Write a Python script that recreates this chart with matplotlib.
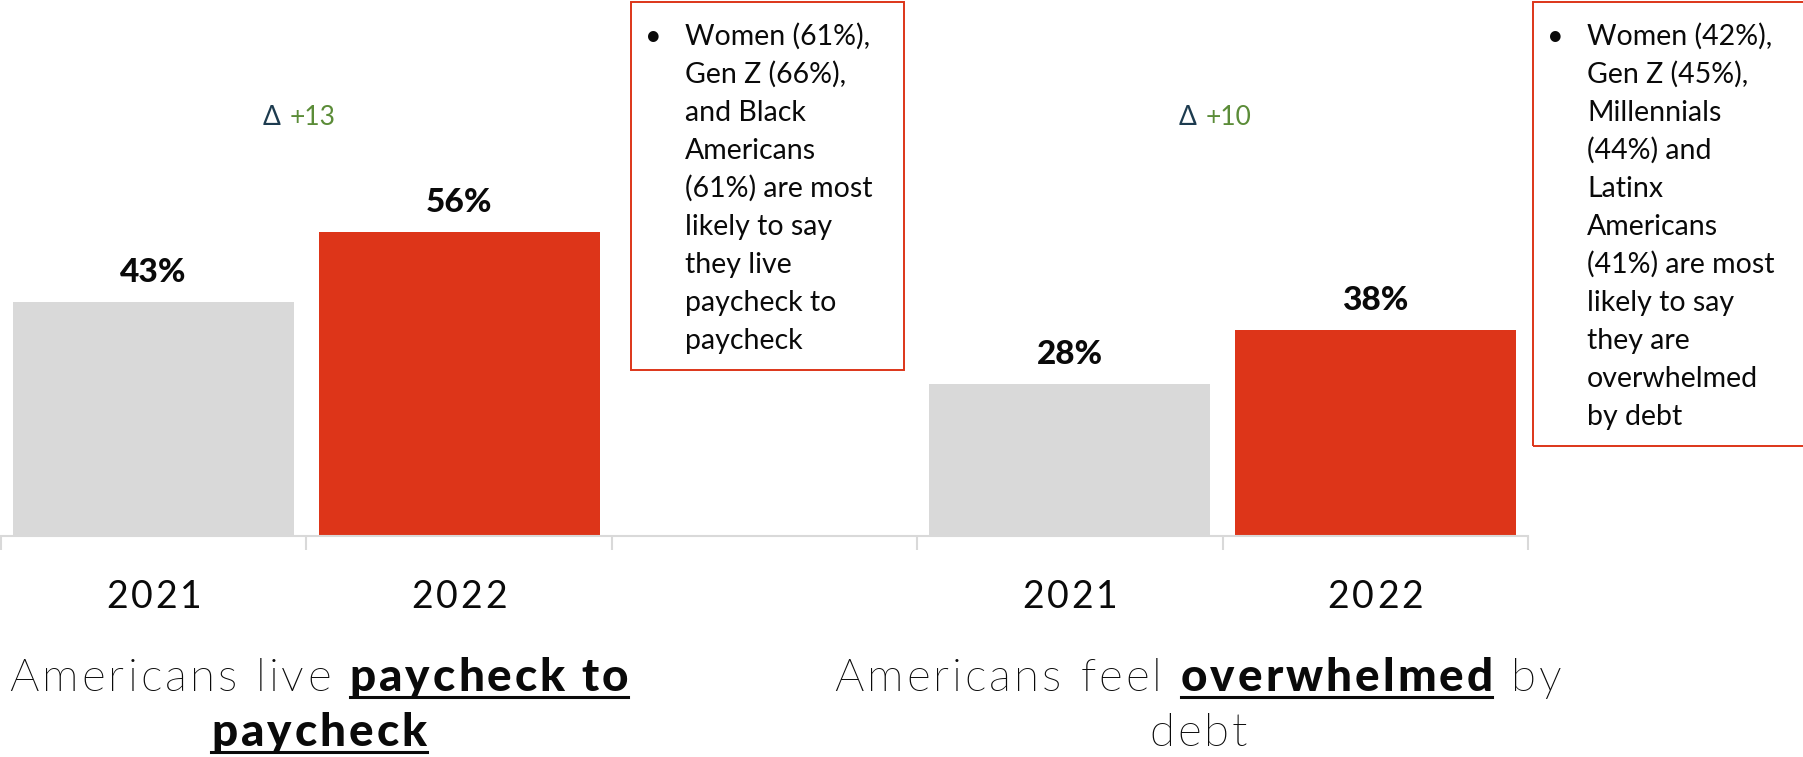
import matplotlib
matplotlib.use("Agg")
import matplotlib.pyplot as plt
from matplotlib import font_manager
from matplotlib.patches import Rectangle
from matplotlib.lines import Line2D

# ---- data -------------------------------------------------------------
years = ["2021", "2022"]
paycheck = [43, 56]          # % living paycheck to paycheck
debt = [28, 38]              # % overwhelmed by debt

paycheck_note = ["Women (61%),", "Gen Z (66%),", "and Black", "Americans",
                 "(61%) are most", "likely to say", "they live",
                 "paycheck to", "paycheck"]
debt_note = ["Women (42%),", "Gen Z (45%),", "Millennials", "(44%) and",
             "Latinx", "Americans", "(41%) are most", "likely to say",
             "they are", "overwhelmed", "by debt"]

paycheck_title = [[("Americans live ", False), ("paycheck to", True)],
                  [("paycheck", True)]]
debt_title = [[("Americans feel ", False), ("overwhelmed", True), (" by", False)],
              [("debt", False)]]

# ---- style ------------------------------------------------------------
GREY = "#d9d9d9"
RED = "#dd3519"
NAVY = "#1d3b4f"
GREEN = "#5b8c38"
INK = "#0a0a0a"
FAM = ["Lato", "DejaVu Sans"]
plt.rcParams["font.family"] = FAM


def lato_file(tag):
    """Path of the upright Lato face whose file name carries `tag`."""
    for f in font_manager.fontManager.ttflist:
        base = f.fname.rsplit("/", 1)[-1]
        if f.name == "Lato" and tag in base and "Italic" not in base:
            return f.fname
    return None


_light = lato_file("Light")
LIGHT = dict(fname=_light) if _light else dict(family=FAM, weight="light")

W, H = 1803, 757
fig = plt.figure(figsize=(W / 100, H / 100), dpi=100)
fig.patch.set_facecolor("white")


def fx(px):
    return px / W


def fy(py):
    return 1 - py / H


renderer = fig.canvas.get_renderer()
_adv = {}


def make_props(style, size):
    if style == "light":
        return dict(fontproperties=font_manager.FontProperties(size=size, **LIGHT))
    return dict(fontsize=size, fontweight=style)


def advance(ch, style, size):
    key = (ch, style, size)
    if key not in _adv:
        a = fig.text(0, 0, "H" + ch + "H", **make_props(style, size))
        b = fig.text(0, 0, "HH", **make_props(style, size))
        _adv[key] = (a.get_window_extent(renderer).width
                     - b.get_window_extent(renderer).width)
        a.remove()
        b.remove()
    return _adv[key]


def tracked(text, cx, base, style, size, track, color=INK):
    """Draw text centred on cx (figure px) with extra letter spacing."""
    total = sum(advance(c, style, size) + track for c in text) - track
    x = cx - total / 2
    for c in text:
        if c != " ":
            fig.text(fx(x), fy(base), c, ha="left", va="baseline",
                     color=color, **make_props(style, size))
        x += advance(c, style, size) + track


# ---- bars on one shared category axis (slot 2 left empty) --------------
AX_L, AX_R, AX_B = 1, 1528, 536
ax = fig.add_axes([fx(AX_L), fy(AX_B), fx(AX_R) - fx(AX_L), fy(0) - fy(AX_B)])
ax.set_xlim(-0.5, 4.5)
ax.set_ylim(0, 98.7)

groups = [(0, paycheck), (3, debt)]
for start, vals in groups:
    xs = [start, start + 1]
    ax.bar(xs, vals, width=0.92, color=[GREY, RED], zorder=2)
    for x, v in zip(xs, vals):
        ax.annotate(f"{v}%", (x, v), xytext=(0, 20), textcoords="offset pixels",
                    ha="center", va="baseline", fontsize=24, fontweight="black",
                    color=INK)
    change = vals[1] - vals[0]
    ax.annotate("\u0394", (start + 0.5, 75.7), xytext=(-26, 0),
                textcoords="offset pixels", ha="right", va="baseline",
                fontsize=19, color=NAVY)
    ax.annotate(f"+{change}", (start + 0.5, 75.7), xytext=(-17, 0),
                textcoords="offset pixels", ha="left", va="baseline",
                fontsize=19, color=GREEN)

for side in ("top", "left", "right"):
    ax.spines[side].set_visible(False)
ax.spines["bottom"].set_color(GREY)
ax.spines["bottom"].set_linewidth(1.5)
ax.set_yticks([])
ax.set_xticks([-0.5, 0.5, 1.5, 2.5, 3.5, 4.5])
ax.set_xticklabels([])
ax.tick_params(axis="x", which="major", length=10, width=1.5, color=GREY)
ax.patch.set_alpha(0)

# year labels under each bar, letter-spaced
slot = (AX_R - AX_L) / 5
for i, yr in zip([0, 1, 3, 4], years + years):
    tracked(yr, AX_L + slot * (i + 0.5), 608, "normal", 27, 3.0)

# ---- callout boxes ----------------------------------------------------
def callout(x0, x1, y0, y1, lines, bullet_x, text_x):
    fig.add_artist(Rectangle((fx(x0), fy(y1)), fx(x1) - fx(x0), fy(y0) - fy(y1),
                             transform=fig.transFigure, fill=False,
                             edgecolor=RED, linewidth=1.4))
    base = 45
    fig.text(fx(bullet_x), fy(base), "\u2022", ha="center", va="baseline",
             fontsize=20.5, color=INK)
    for i, line in enumerate(lines):
        fig.text(fx(text_x), fy(base + 38 * i), line, ha="left",
                 va="baseline", fontsize=20.5, color=INK)


callout(631, 904, 2, 370, paycheck_note, 653, 685)
callout(1533, 1830, 2, 446, debt_note, 1555, 1587)

# ---- mixed-weight, underlined titles ---------------------------------
def rich_line(runs, cx, base, size, track):
    styled = [(text, bold, "black" if bold else "light") for text, bold in runs]
    total = -track
    for text, bold, style in styled:
        total += sum(advance(c, style, size) + track for c in text)
    x = cx - total / 2
    for text, bold, style in styled:
        start = x
        for c in text:
            if c != " ":
                fig.text(fx(x), fy(base), c, ha="left", va="baseline",
                         color=INK, **make_props(style, size))
            x += advance(c, style, size) + track
        if bold:
            fig.add_artist(Line2D([fx(start), fx(x - track)],
                                  [fy(base + 6), fy(base + 6)],
                                  transform=fig.transFigure, color=INK,
                                  linewidth=2.2))


def title(lines, cx):
    for i, runs in enumerate(lines):
        rich_line(runs, cx, 691 + 55 * i, 33, 3.0)


title(paycheck_title, 319)
title(debt_title, 1198)

fig.savefig("out.png", dpi=100, facecolor="white")
